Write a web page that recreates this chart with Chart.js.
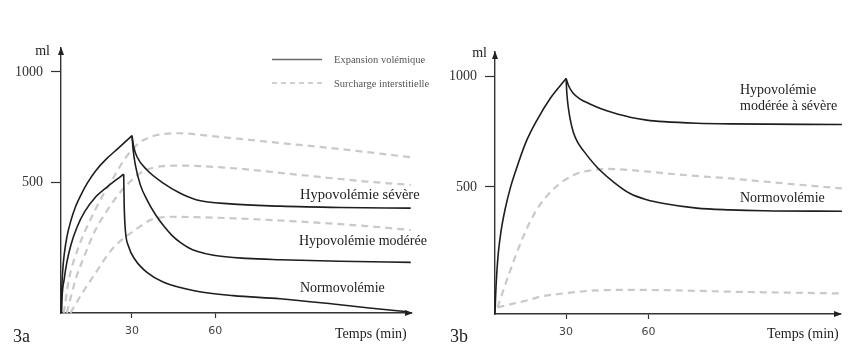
<!DOCTYPE html>
<html lang="fr">
<head>
<meta charset="UTF-8">
<title>Expansion volémique et surcharge interstitielle</title>
<script src="https://cdn.jsdelivr.net/npm/chart.js"></script>
<style>
  html, body { margin: 0; padding: 0; background: #fff; }
  #wrap { position: relative; width: 861px; height: 345px; }
  .panel { position: absolute; top: 0; height: 345px; }
  #panelA { left: 0; width: 430px; }
  #panelB { left: 430px; width: 431px; }
</style>
</head>
<body>
<div id="wrap">
  <div class="panel" id="panelA"><canvas id="chartA"></canvas></div>
  <div class="panel" id="panelB"><canvas id="chartB"></canvas></div>
</div>

<script>
// Volumes (ml) against time (min), as [minutes, ml] pairs.
// Panel 3a
const aRise      = [[4.4,-88],[4.6,0],[5.0,100],[5.6,180],[6.6,260],[8,330],[9.6,390],[12,455],[14,500],[17,555],[20.6,605],[25,655],[30,712]];
const aSevere    = [[30,712],[30.6,663],[31.8,617],[35.4,557],[41.4,497],[47.4,452],[53.4,422],[65.4,404],[83.4,394],[105,388],[130.5,385]];
const aModerate  = [[30,712],[30.4,650],[31.2,580],[33,490],[35.5,420],[38.5,355],[41.4,305],[44.4,262],[47.4,230],[50.4,206],[53.4,190],[59.4,172],[71.4,158],[83.4,152],[105,145],[130.5,140]];
const aNormoRise = [[4.6,-88],[4.8,-15],[5.5,60],[6.5,140],[8,220],[10.2,300],[13,370],[16.5,430],[21,480],[24,510],[27,538]];
const aNormoFall = [[27,538],[27.2,392],[27.6,286],[28.8,211],[31.2,151],[35.4,95],[41.4,50],[53.4,10],[66.5,-10],[83.4,-24],[102.5,-48],[114.7,-65],[129.6,-83]];
const aInterHigh = [[5.4,-88],[7.2,60],[10.8,211],[14.4,317],[19.2,437],[22.8,512],[27,600],[29.4,640],[32.4,678],[34.2,693],[39,715],[46.2,723],[60.6,708],[78.6,685],[102.6,655],[130.5,615]];
const aInterMid  = [[6.5,-88],[9.6,60],[13.2,181],[16.8,286],[21.6,385],[25,445],[29.4,505],[33,543],[37,565],[41.4,575],[47.4,577],[66.6,565],[90.6,535],[114.6,505],[130.5,490]];
const aInterLow  = [[7.8,-88],[12,0],[16.8,91],[21.6,181],[24,215],[27,250],[29.4,271],[36.6,331],[40,342],[43.8,346],[53.4,344],[66.6,339],[90.6,324],[114.6,304],[130.5,286]];

// Panel 3b
const bRise      = [[4.1,-75],[4.3,0],[4.7,100],[5.3,200],[6.3,300],[7.8,400],[9.8,500],[12.4,600],[15.3,700],[19.3,800],[24.2,900],[30,990]];
const bHypo      = [[30,990],[31,955],[32.5,925],[35,898],[38.7,875],[43,852],[47.2,835],[53.3,815],[59.4,802],[65.6,795],[77.6,788],[89.8,785],[130.5,782]];
const bNormo     = [[30,990],[30.3,920],[30.8,860],[31.5,805],[32.7,745],[34.3,700],[36.3,664],[41.2,590],[47.2,523],[53.3,470],[59.4,442],[65.6,425],[77.6,404],[89.8,396],[101.9,392],[130.5,390]];
const bInterHigh = [[5,-45],[9.6,120],[14.4,275],[19.2,395],[25.4,490],[32.7,553],[38.7,574],[45,581],[53.3,576],[71.5,555],[89.8,538],[110,515],[130.5,493]];
const bInterLow  = [[5,-45],[10.8,-28],[16.9,-10],[20.5,3],[29.1,18],[38.7,30],[53.3,34],[65.6,33],[89.8,26],[130.5,18]];

const yTicks = [500, 1000];
const xTicks = [30, 60];

const SERIF = '"Liberation Serif", "DejaVu Serif", serif';
const SOLID = '#1e1e1e';
const DASH = '#c9c9c9';

function pts(list) {
  return list.map(p => ({ x: p[0], y: p[1] }));
}
function solid(list) {
  return { data: pts(list), borderColor: SOLID, borderWidth: 1.6, order: 0 };
}
function dashed(list) {
  return { data: pts(list), borderColor: DASH, borderWidth: 2.2, borderDash: [7, 5], order: 1 };
}

// text, axis arrows and the small legend
const decor = {
  id: 'decor',
  afterDraw(chart, args, opts) {
    const ctx = chart.ctx;
    const a = chart.chartArea;
    ctx.save();
    ctx.fillStyle = '#222';
    // arrow heads
    ctx.beginPath();
    ctx.moveTo(a.left, a.top - 1);
    ctx.lineTo(a.left - 3, a.top + 7);
    ctx.lineTo(a.left + 3, a.top + 7);
    ctx.closePath();
    ctx.fill();
    ctx.beginPath();
    ctx.moveTo(a.right + 2, a.bottom);
    ctx.lineTo(a.right - 6, a.bottom - 3);
    ctx.lineTo(a.right - 6, a.bottom + 3);
    ctx.closePath();
    ctx.fill();

    ctx.textBaseline = 'middle';
    (opts.texts || []).forEach(t => {
      ctx.font = t.size + 'px ' + SERIF;
      ctx.fillStyle = t.color || '#222';
      ctx.textAlign = t.align || 'left';
      ctx.fillText(t.text, t.x, t.y);
    });

    if (opts.legend) {
      const lg = opts.legend;
      ctx.lineWidth = 1.5;
      ctx.strokeStyle = '#6a6a6a';
      ctx.beginPath();
      ctx.moveTo(lg.x, lg.y1);
      ctx.lineTo(lg.x + 50, lg.y1);
      ctx.stroke();
      ctx.strokeStyle = '#cfcfcf';
      ctx.lineWidth = 2;
      ctx.setLineDash([5, 4]);
      ctx.beginPath();
      ctx.moveTo(lg.x, lg.y2);
      ctx.lineTo(lg.x + 50, lg.y2);
      ctx.stroke();
      ctx.setLineDash([]);
      ctx.font = '10.5px ' + SERIF;
      ctx.fillStyle = '#555';
      ctx.textAlign = 'left';
      ctx.fillText('Expansion volémique', lg.x + 62, lg.y1 + 1);
      ctx.fillText('Surcharge interstitielle', lg.x + 62, lg.y2 + 1);
    }
    ctx.restore();
  }
};

function makeOptions(p) {
  return {
    responsive: true,
    maintainAspectRatio: false,
    animation: false,
    layout: { padding: { left: 0, top: p.top, right: p.right, bottom: 0 } },
    elements: {
      point: { radius: 0 },
      line: { cubicInterpolationMode: 'monotone', fill: false }
    },
    datasets: { line: { clip: false } },
    plugins: {
      legend: { display: false },
      tooltip: { enabled: false },
      decor: { texts: p.texts, legend: p.legend }
    },
    scales: {
      x: {
        type: 'linear',
        min: p.xMin,
        max: p.xMax,
        afterBuildTicks: s => { s.ticks = xTicks.map(v => ({ value: v })); },
        afterFit: s => { s.height = p.xHeight; },
        grid: { display: true, drawOnChartArea: false, drawTicks: true, tickLength: 5, tickColor: '#333', tickWidth: 1.2 },
        border: { display: true, color: '#333', width: 1.4 },
        ticks: { padding: 7, color: '#444', font: { family: 'DejaVu Sans', size: 11 }, maxRotation: 0, callback: v => String(v) }
      },
      y: {
        type: 'linear',
        min: p.yMin,
        max: p.yMax,
        afterBuildTicks: s => { s.ticks = yTicks.map(v => ({ value: v })); },
        afterFit: s => { s.width = p.yWidth; },
        grid: { display: true, drawOnChartArea: false, drawTicks: true, tickLength: 10, tickColor: '#333', tickWidth: 1.2 },
        border: { display: true, color: '#333', width: 1.4 },
        ticks: { padding: 8, color: '#333', font: { family: SERIF, size: 14 }, callback: v => String(v) }
      }
    }
  };
}

new Chart(document.getElementById('chartA'), {
  type: 'line',
  data: {
    datasets: [
      solid(aRise), solid(aSevere), solid(aModerate), solid(aNormoRise), solid(aNormoFall),
      dashed(aInterHigh), dashed(aInterMid), dashed(aInterLow)
    ]
  },
  options: makeOptions({
    xMin: 4.4, xMax: 130.6, yMin: -88.5, yMax: 1108,
    top: 48, right: 19, yWidth: 61, xHeight: 32,
    texts: [
      { text: 'ml', x: 50, y: 51, size: 14, align: 'right' },
      { text: 'Temps (min)', x: 335, y: 334, size: 14 },
      { text: '3a', x: 13, y: 337, size: 18 },
      { text: 'Hypovolémie sévère', x: 300, y: 195, size: 14.5 },
      { text: 'Hypovolémie modérée', x: 299, y: 241, size: 14 },
      { text: 'Normovolémie', x: 300, y: 288, size: 14 }
    ],
    legend: { x: 272, y1: 59.5, y2: 83 }
  }),
  plugins: [decor]
});

new Chart(document.getElementById('chartB'), {
  type: 'line',
  data: {
    datasets: [
      solid(bRise), solid(bHypo), solid(bNormo),
      dashed(bInterHigh), dashed(bInterLow)
    ]
  },
  options: makeOptions({
    xMin: 4.1, xMax: 129.8, yMin: -75, yMax: 1110,
    top: 52, right: 21, yWidth: 65, xHeight: 31,
    texts: [
      { text: 'ml', x: 57, y: 53, size: 14, align: 'right' },
      { text: 'Temps (min)', x: 337, y: 334, size: 14 },
      { text: '3b', x: 20, y: 337, size: 18 },
      { text: 'Hypovolémie', x: 310, y: 90, size: 14 },
      { text: 'modérée à sévère', x: 310, y: 106, size: 14 },
      { text: 'Normovolémie', x: 310, y: 198, size: 14 }
    ],
    legend: null
  }),
  plugins: [decor]
});
</script>
</body>
</html>
